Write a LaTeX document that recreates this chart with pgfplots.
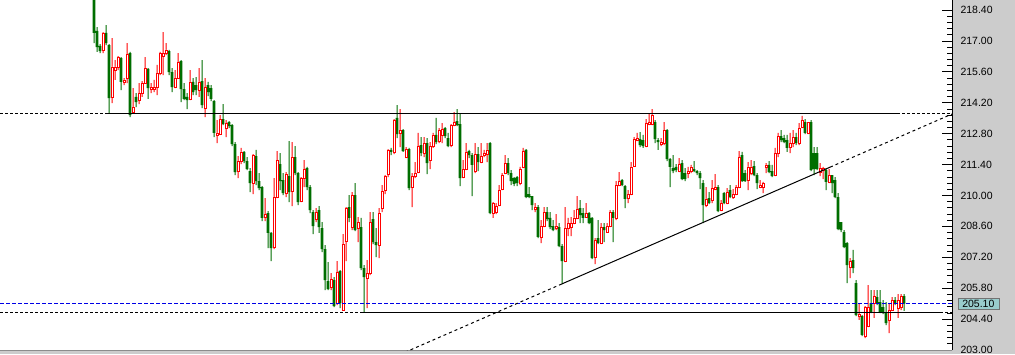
\documentclass[border=0pt]{standalone}
\usepackage{pgfplots}
\pgfplotsset{compat=1.18}
\usepackage{pgfplotstable}
\usepackage{fontspec}
\setmainfont{Liberation Sans}
\definecolor{cgreen}{RGB}{0,110,0}
\definecolor{cred}{RGB}{255,0,0}
\definecolor{panel}{RGB}{204,204,204}
\definecolor{pricebox}{RGB}{153,204,204}
\definecolor{bidblue}{RGB}{0,0,230}

\pgfplotsset{
  candleaxis/.style={at={(0,0)}, anchor=south west, scale only axis,
    width=952pt, height=350pt,
    xmin=-31.3333, xmax=286, ymin=203, ymax=218.853, clip=true},
  overlay/.style={candleaxis, axis lines=none, xtick=\empty, ytick=\empty},
}

\pgfplotstableread{
k open high low close
0 219.08 219.08 216.90 217.36
1 217.45 217.63 216.50 216.72
2 216.77 216.86 216.45 216.54
4 217.36 217.72 216.81 216.90
5 216.81 216.86 213.73 214.41
9 216.22 216.27 214.77 215.14
12 216.45 216.50 213.55 213.64
14 214.46 214.64 214.00 214.23
18 215.73 215.77 214.37 214.86
25 216.54 216.59 215.45 215.59
26 215.59 215.77 214.68 214.91
29 216.09 216.13 214.23 214.82
30 214.82 215.09 214.32 214.37
31 214.46 214.64 213.91 214.32
33 215.14 215.32 214.55 214.68
34 215.00 215.36 214.55 214.77
36 215.18 216.13 213.96 214.09
38 215.00 215.14 214.50 214.68
39 214.86 215.00 214.27 214.37
40 214.27 214.32 212.64 212.83
43 213.46 214.14 213.19 213.23
45 213.32 213.37 213.05 213.14
46 213.19 213.23 212.24 212.33
47 212.33 212.42 210.92 211.06
50 211.97 212.01 211.47 211.56
51 211.56 211.74 211.15 211.19
52 211.10 211.24 210.15 210.56
54 211.78 212.06 210.47 210.65
55 210.65 211.01 210.24 210.33
56 210.38 210.42 208.84 208.98
58 209.20 209.29 207.62 208.30
59 208.30 208.34 207.03 207.62
62 211.42 211.92 210.24 210.65
63 210.70 211.01 210.02 210.11
65 210.88 212.46 209.70 210.15
67 211.74 212.24 210.92 211.01
68 211.01 211.06 209.56 209.70
71 211.24 211.29 210.24 210.38
72 210.38 210.47 209.20 209.34
73 209.25 209.34 208.25 208.61
75 209.34 209.52 208.30 208.57
76 208.52 208.79 207.43 207.57
77 207.57 207.75 205.71 206.17
78 206.12 206.98 205.71 205.76
80 206.17 206.30 204.94 204.99
82 206.57 206.62 204.90 205.12
85 209.47 210.02 208.79 208.98
87 210.02 210.56 208.39 208.43
89 208.57 208.98 206.62 206.71
90 206.71 206.85 204.72 206.30
93 208.93 209.25 207.80 207.89
94 207.89 208.52 207.21 207.75
99 212.06 212.15 211.83 211.97
101 213.51 214.09 212.60 212.78
103 212.96 213.01 211.97 212.01
105 212.10 212.15 210.24 210.33
109 212.28 212.64 211.78 211.92
111 212.37 212.60 210.97 211.47
114 212.74 213.51 212.33 212.42
117 213.05 213.10 212.60 212.69
118 212.60 212.83 212.19 212.24
121 213.37 213.91 213.14 213.19
122 213.23 213.73 210.42 210.79
125 212.01 212.06 211.69 211.83
126 211.83 211.92 209.97 211.38
128 211.87 212.19 211.10 211.51
132 212.37 212.42 209.16 209.20
138 211.47 211.69 210.92 211.01
139 211.01 211.15 210.47 210.65
140 210.79 210.83 210.42 210.52
141 210.83 210.88 210.42 210.56
144 212.06 212.10 209.88 209.93
145 210.06 210.38 209.88 209.93
146 209.97 209.97 209.34 209.56
148 209.47 209.56 208.07 208.12
151 209.25 209.47 208.84 208.93
152 208.98 209.25 208.48 208.57
153 208.61 208.88 208.39 208.43
155 208.57 208.75 207.66 207.71
156 207.71 207.80 205.98 207.03
162 209.43 209.79 208.75 209.11
163 209.20 209.43 208.75 208.98
165 209.20 209.25 208.70 208.75
166 208.98 209.02 207.12 207.16
168 208.07 208.88 207.80 207.84
170 208.57 208.75 207.89 208.43
173 209.25 209.34 207.89 208.98
176 210.70 210.74 210.42 210.47
177 210.42 210.47 209.43 209.84
182 212.55 212.87 212.19 212.28
183 212.51 212.74 212.15 212.24
187 213.32 213.41 212.37 212.55
188 212.51 212.60 212.06 212.42
191 212.96 213.01 211.56 211.65
192 211.65 211.69 210.38 211.29
193 211.24 211.83 211.01 211.10
194 211.29 211.42 211.06 211.15
196 211.47 211.60 210.70 210.74
197 211.01 211.24 210.65 210.74
200 211.19 211.56 211.06 211.10
201 211.10 211.15 210.92 211.01
202 211.01 211.10 210.29 210.79
203 210.56 210.70 208.75 209.56
205 209.88 210.15 209.61 209.65
208 210.38 210.47 209.25 209.29
210 210.11 210.15 209.61 209.65
212 210.24 210.47 209.88 209.93
216 211.83 211.97 210.61 210.65
217 211.01 211.15 210.61 210.65
220 211.33 211.56 210.88 210.92
221 210.92 211.01 210.29 210.56
225 211.38 211.56 211.01 211.06
226 211.10 211.38 210.83 210.88
229 212.69 212.96 212.42 212.51
230 212.60 212.74 212.37 212.42
231 212.51 212.74 211.97 212.15
234 212.64 212.83 212.28 212.37
237 213.32 213.46 212.78 212.83
239 213.32 213.41 211.10 211.15
240 211.92 212.19 210.92 211.19
241 211.92 212.19 211.15 211.19
244 211.15 211.24 210.24 210.61
246 210.92 210.92 210.11 210.56
247 210.70 210.83 209.88 209.93
248 209.93 210.11 208.43 208.48
249 208.79 208.79 208.34 208.43
250 208.34 208.43 207.62 207.66
251 207.84 207.89 206.03 206.85
253 207.07 207.53 206.48 206.71
254 206.03 206.17 204.54 204.58
256 204.54 204.58 203.63 203.68
259 205.12 205.71 204.67 204.72
261 205.40 205.71 205.03 205.12
262 205.17 205.71 204.67 204.72
263 204.94 205.26 204.63 204.67
264 204.72 205.17 204.13 204.22
267 205.26 205.40 205.03 205.12
270 205.44 205.53 204.77 205.10
}\greentab

\pgfplotstableread{
k open high low close
3 216.59 217.40 216.45 217.36
6 214.46 217.13 214.18 215.82
7 215.68 216.13 215.23 215.82
8 215.82 216.31 215.68 216.27
10 215.14 215.32 215.00 215.23
11 215.32 216.90 215.09 216.40
13 213.78 214.86 213.69 214.00
15 214.32 215.09 214.14 214.64
16 214.64 215.18 214.46 215.09
17 215.09 216.27 215.05 215.77
19 214.82 215.09 214.64 214.91
20 214.82 215.23 214.68 214.91
21 214.91 215.91 214.55 215.54
22 215.54 216.50 215.45 216.45
23 216.31 217.40 215.45 216.45
24 216.45 216.90 216.36 216.59
27 214.91 215.68 214.86 215.32
28 215.32 216.45 215.32 216.04
32 214.37 215.68 214.32 215.14
35 214.77 215.77 214.46 215.14
37 213.96 215.32 213.55 214.91
41 212.74 213.41 212.37 212.83
42 212.78 213.64 212.74 213.46
44 213.05 213.41 212.64 213.28
48 211.10 211.78 210.79 211.56
49 211.56 212.15 211.42 211.97
53 210.56 211.87 210.06 211.83
57 209.02 209.88 208.84 209.16
60 207.66 210.79 207.57 209.93
61 209.93 212.01 209.88 211.60
64 210.11 211.06 209.93 210.97
66 210.20 212.42 209.52 211.74
69 209.74 210.83 209.70 210.79
70 210.79 211.60 210.38 211.19
74 208.93 209.43 208.79 209.25
79 205.85 206.48 205.71 206.21
81 205.12 207.03 205.03 206.53
83 204.81 208.25 204.77 207.80
84 207.93 209.47 207.03 209.43
86 208.57 210.15 208.43 210.02
88 208.52 209.02 207.89 208.79
91 206.26 207.07 204.90 206.48
92 206.48 209.25 206.39 208.79
95 207.75 209.43 207.16 209.20
96 209.43 210.47 209.25 210.20
97 210.24 210.92 210.06 210.88
98 210.97 212.10 210.83 212.06
100 211.97 213.46 211.87 213.41
102 212.83 213.91 212.19 212.96
104 211.74 212.19 211.69 212.10
106 210.38 211.01 209.47 210.88
107 210.88 211.51 210.79 211.01
108 211.06 212.83 211.01 212.24
110 211.92 212.64 211.74 212.37
112 211.60 212.42 211.19 212.24
113 212.24 212.83 212.15 212.74
115 212.46 213.05 212.37 212.96
116 212.74 213.28 212.37 213.01
119 212.28 213.23 212.19 213.19
120 213.19 213.78 213.14 213.32
123 210.83 211.60 210.79 211.19
124 211.19 212.37 211.15 211.97
127 211.10 212.37 211.01 211.87
129 211.51 212.37 211.47 211.78
130 211.83 212.06 211.74 211.92
131 211.87 212.37 211.51 212.06
133 209.20 209.70 208.98 209.65
134 209.25 209.65 209.16 209.52
135 209.56 210.47 209.52 210.24
136 210.29 211.01 210.24 210.92
137 211.01 211.83 210.97 211.47
142 210.56 211.29 210.47 211.19
143 211.29 212.15 211.24 212.01
147 209.38 209.65 209.25 209.47
149 208.12 208.88 207.84 208.61
150 208.61 209.47 208.57 209.25
154 208.52 209.16 208.43 208.61
157 207.03 209.47 206.98 208.52
158 208.52 208.98 208.16 208.75
159 208.57 209.02 208.16 208.75
160 208.75 209.34 208.70 208.98
161 208.98 209.97 208.93 209.38
164 209.02 209.65 208.98 209.20
167 207.21 208.07 206.89 207.98
169 207.84 208.75 207.80 208.57
171 208.34 208.75 208.30 208.61
172 208.61 209.34 208.57 209.25
174 208.98 210.65 208.88 210.47
175 210.47 211.06 210.42 210.65
178 209.88 210.24 209.65 210.06
179 210.06 211.51 210.02 211.29
180 211.33 212.64 211.29 212.55
181 212.51 212.83 212.46 212.60
184 212.24 213.46 212.19 213.28
185 213.23 213.73 213.19 213.32
186 213.23 213.91 213.19 213.64
189 212.33 212.60 212.24 212.42
190 212.37 213.32 212.28 212.96
195 211.10 211.69 211.06 211.42
198 211.01 211.29 210.79 211.10
199 211.10 211.38 211.01 211.29
204 209.56 210.38 209.47 209.84
206 209.79 210.70 209.65 210.33
207 210.29 210.97 210.24 210.38
209 209.34 209.79 209.29 209.65
211 209.65 210.33 209.61 210.15
213 209.93 210.29 209.84 210.06
214 210.06 210.47 210.02 210.38
215 210.38 212.01 210.33 211.74
218 210.70 211.51 210.24 211.29
219 211.01 211.60 210.92 211.29
222 210.38 210.70 210.33 210.47
223 210.38 210.61 210.11 210.56
224 211.29 211.47 211.01 211.38
227 210.92 212.15 210.88 211.92
228 211.92 212.83 211.74 212.69
232 212.19 212.83 211.92 212.37
233 212.37 212.96 212.19 212.64
235 212.37 213.28 212.28 213.05
236 213.10 213.60 213.05 213.41
238 212.83 213.32 212.78 213.32
242 211.06 211.47 210.88 211.24
243 211.15 211.29 210.74 211.24
245 210.61 211.19 210.56 210.92
252 206.76 207.16 206.26 207.03
255 204.54 205.12 204.36 204.63
257 203.63 204.99 203.54 204.94
258 204.08 205.94 204.04 204.94
260 205.12 205.71 204.45 205.44
265 204.36 205.12 203.77 204.81
266 204.81 205.40 204.77 205.26
268 204.90 205.53 204.45 205.26
269 204.94 205.53 204.81 205.44
}\redtab

\begin{document}
\begin{tikzpicture}
\useasboundingbox (0,-4pt) rectangle (1015pt,350pt);
\clip (0,-4pt) rectangle (1015pt,350pt);
\fill[panel] (0,-4pt) rectangle (1015pt,350pt);
% main axis: background, price scale, green wicks
\begin{axis}[
  candleaxis,
  axis background/.style={fill=white},
  axis x line*=bottom, axis y line*=right,
  x axis line style={draw=black!45, line width=1pt},
  y axis line style={draw=black, line width=1pt},
  xtick=\empty,
  ytick={203,204.4,205.8,207.2,208.6,210,211.4,212.8,214.2,215.6,217,218.4},
  minor y tick num=4,
  tick align=inside,
  major tick length=10pt, minor tick length=5pt,
  tick style={black, line width=0.8pt},
  /pgf/number format/assume math mode=true,
  yticklabel style={font=\fontsize{10.5}{12}\selectfont, xshift=5pt, text=black,
    /pgf/number format/fixed, /pgf/number format/fixed zerofill,
    /pgf/number format/precision=2},
  ybar stacked, bar width=1pt,
]
\addplot[draw=none, fill=none, forget plot] table[x=k, y=low] {\greentab};
\addplot[draw=none, fill=cgreen, forget plot] table[x=k, y expr=\thisrow{high}-\thisrow{low}] {\greentab};
\end{axis}
% red wicks
\begin{axis}[overlay, ybar stacked, bar width=1pt]
\addplot[draw=none, fill=none, forget plot] table[x=k, y=low] {\redtab};
\addplot[draw=none, fill=cred, forget plot] table[x=k, y expr=\thisrow{high}-\thisrow{low}] {\redtab};
\end{axis}
% green bodies
\begin{axis}[overlay, ybar stacked, bar width=2.7pt]
\addplot[draw=none, fill=none, forget plot] table[x=k, y=close] {\greentab};
\addplot[draw=none, fill=cgreen, forget plot] table[x=k, y expr=\thisrow{open}-\thisrow{close}] {\greentab};
\end{axis}
% red (hollow) bodies
\begin{axis}[overlay, ybar stacked, bar width=1.9pt]
\addplot[draw=none, fill=none, forget plot] table[x=k, y=open] {\redtab};
\addplot[draw=cred, fill=white, line width=0.9pt, forget plot] table[x=k, y expr=\thisrow{close}-\thisrow{open}] {\redtab};
\end{axis}
% lines
\begin{axis}[overlay]
\addplot[black, line width=1pt, dash pattern=on 3pt off 2pt, forget plot] coordinates {(-31.3333,213.69) (4.67,213.69)};
\addplot[black, line width=1pt, forget plot] coordinates {(4.67,213.69) (267.67,213.69)};
\addplot[black, line width=1pt, dash pattern=on 3pt off 2pt, forget plot] coordinates {(267.67,213.69) (286,213.69)};
\addplot[black, line width=1pt, dash pattern=on 3pt off 2pt, forget plot] coordinates {(-31.3333,204.72) (89.67,204.72)};
\addplot[black, line width=1pt, forget plot] coordinates {(89.67,204.72) (282,204.72)};
\addplot[black, line width=1pt, dash pattern=on 3pt off 2pt, forget plot] coordinates {(282,204.72) (286,204.72)};
\addplot[bidblue, line width=1pt, dash pattern=on 4pt off 2pt, forget plot] coordinates {(-31.3333,205.10) (286,205.10)};
\addplot[black, line width=1pt, dash pattern=on 3pt off 3pt, forget plot] coordinates {(100,202.68) (155.9,205.99)};
\addplot[black, line width=1pt, forget plot] coordinates {(155.9,205.99) (245.33,211.28)};
\addplot[black, line width=1pt, dash pattern=on 3pt off 3pt, forget plot] coordinates {(245.33,211.28) (286,213.69)};
\coordinate (bid) at (axis cs:286,205.10);
\end{axis}
\node[anchor=west, fill=pricebox, draw=black!55, line width=0.6pt, inner sep=0pt,
  minimum width=41pt, minimum height=11.5pt, font=\fontsize{10.5}{12}\selectfont]
  at ([xshift=5.5pt]bid) {205.10};
\end{tikzpicture}
\end{document}
